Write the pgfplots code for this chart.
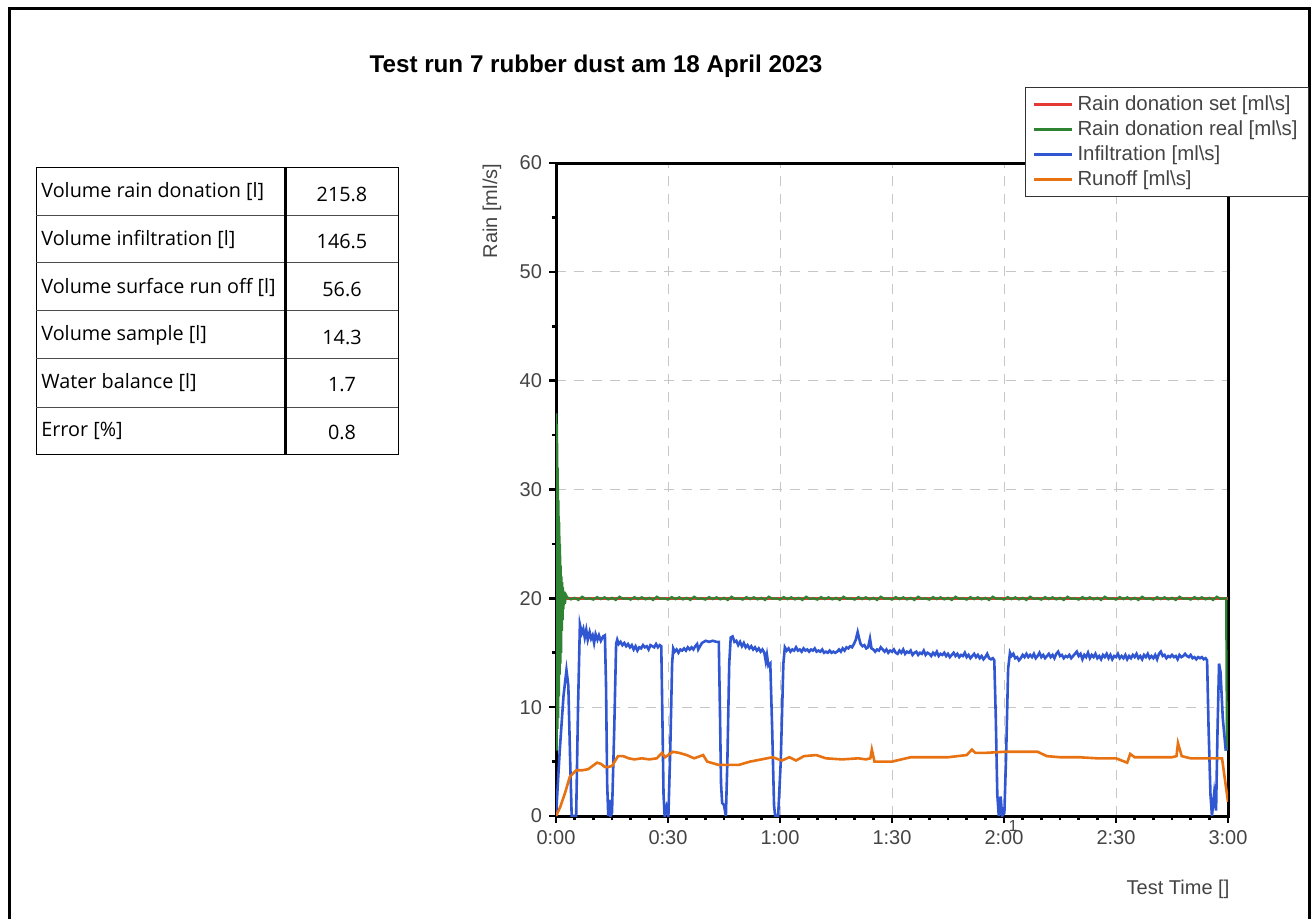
\documentclass[border=0pt]{standalone}
\usepackage{pgfplots}
\pgfplotsset{compat=1.18}
\usepackage{fontspec}
\setmainfont{Liberation Sans}
\newfontfamily\tablefont{Open Sans}
\definecolor{cred}{RGB}{229,57,53}
\definecolor{cgreen}{RGB}{46,132,50}
\definecolor{cblue}{RGB}{48,86,210}
\definecolor{corange}{RGB}{232,114,18}
\definecolor{tickgray}{RGB}{68,68,68}
\begin{document}
\begin{tikzpicture}
\path[use as bounding box] (0pt,0pt) rectangle (658pt,-459.5pt);
\begin{scope}[x=0.5pt,y=-0.5pt]
% outer frame
\draw[line width=1.5pt] (9,919) -- (9,9) -- (1309,9) -- (1309,919);
% title
\node[font=\bfseries\fontsize{12.1}{14}\selectfont] at (596,66) {Test run 7 rubber dust am 18 April 2023};
% table
\draw[line width=0.5pt, black] (36,168) rectangle (398,454);
\foreach \yy in {216,263,311,359,407} {\draw[line width=0.5pt, black!70] (36,\yy) -- (398,\yy);}
\draw[line width=1.5pt] (285,168) -- (285,454);
\begin{scope}[every node/.style={font=\tablefont\fontsize{9.9}{11}\selectfont, inner sep=0pt}]
\node[anchor=west] at (41,192) {Volume rain donation [l]};
\node[anchor=west] at (41,239.5) {Volume infiltration [l]};
\node[anchor=west] at (41,287) {Volume surface run off [l]};
\node[anchor=west] at (41,335) {Volume sample [l]};
\node[anchor=west] at (41,383) {Water balance [l]};
\node[anchor=west] at (41,430.5) {Error [\%]};
\node at (342,194) {215.8};
\node at (342,241.5) {146.5};
\node at (342,289) {56.6};
\node at (342,337) {14.3};
\node at (342,385) {1.7};
\node at (342,432.5) {0.8};
\end{scope}
% axis labels
\node[rotate=90, text=tickgray, font=\fontsize{10}{12}\selectfont] at (492,211) {Rain [ml/s]};
\node[text=tickgray, font=\fontsize{10}{12}\selectfont] at (1178,889) {Test Time []};
\node[text=tickgray, font=\fontsize{8}{10}\selectfont, inner sep=0pt] at (1013,826) {1};
\end{scope}
\begin{axis}[
  at={(278pt,-408pt)}, anchor=south west,
  scale only axis, width=336pt, height=326.5pt,
  xmin=0, xmax=180, ymin=0, ymax=60,
  xtick={0,30,...,180},
  xticklabels={0:00,0:30,1:00,1:30,2:00,2:30,3:00},
  minor x tick num=5,
  ytick={0,10,...,60},
  minor y tick num=1,
  tick align=outside, tick pos=left,
  major tick length=3.5pt, minor tick length=2.2pt,
  every tick/.style={black, line width=1.3pt},
  axis line style={line width=1.5pt},
  grid=major,
  major grid style={gray!45, line width=0.5pt, dash pattern=on 5pt off 4pt},
  /pgf/number format/assume math mode=true,
  ticklabel style={font=\fontsize{10}{12}\selectfont, text=tickgray},
  legend cell align=left,
  legend style={at={(1.1205,1.1164)}, anchor=north east, draw=black!80, line width=0.5pt,
    font=\fontsize{10.2}{12}\selectfont, text=tickgray, row sep=-0.4pt, inner xsep=3.5pt, inner ysep=2pt,
    nodes={inner xsep=2pt}},
  legend image code/.code={\draw[#1,line width=1.5pt] (0pt,0pt) -- (19pt,0pt);},
]
\addplot[cred, line width=1.2pt] coordinates {(0,20) (180,20)};
\addlegendentry{Rain donation set [ml\textbackslash s]}
\addplot[cgreen, line width=1.1pt] coordinates {
(0,6)(0.1,37)(0.2,6)(0.3,36)(0.4,8)(0.5,32)(0.6,9)(0.7,29)(0.8,11)(0.9,27)(1.0,13)(1.1,25)(1.2,14)(1.3,23)(1.4,15)(1.5,22)(1.6,17)(1.7,21.5)(1.8,18)(1.9,21)(2.0,19)(2.2,20.6)(2.4,19.5)(2.7,20.3)
(3,20.1)(4,19.9)(5,20.05)(6,19.85)(7,20.15)(8,19.95)(9,20.0)(10,19.88)(11,20.12)(12,19.92)
(13,20.1)(14,19.9)(15,20.05)(16,19.85)(17,20.15)(18,19.95)(19,20.0)(20,19.88)(21,20.12)(22,19.92)
(23,20.1)(24,19.9)(25,20.05)(26,19.85)(27,20.15)(28,19.95)(29,20.0)(30,19.88)(31,20.12)(32,19.92)
(33,20.1)(34,19.9)(35,20.05)(36,19.85)(37,20.15)(38,19.95)(39,20.0)(40,19.88)(41,20.12)(42,19.92)
(43,20.1)(44,19.9)(45,20.05)(46,19.85)(47,20.15)(48,19.95)(49,20.0)(50,19.88)(51,20.12)(52,19.92)
(53,20.1)(54,19.9)(55,20.05)(56,19.85)(57,20.15)(58,19.95)(59,20.0)(60,19.88)(61,20.12)(62,19.92)
(63,20.1)(64,19.9)(65,20.05)(66,19.85)(67,20.15)(68,19.95)(69,20.0)(70,19.88)(71,20.12)(72,19.92)
(73,20.1)(74,19.9)(75,20.05)(76,19.85)(77,20.15)(78,19.95)(79,20.0)(80,19.88)(81,20.12)(82,19.92)
(83,20.1)(84,19.9)(85,20.05)(86,19.85)(87,20.15)(88,19.95)(89,20.0)(90,19.88)(91,20.12)(92,19.92)
(93,20.1)(94,19.9)(95,20.05)(96,19.85)(97,20.15)(98,19.95)(99,20.0)(100,19.88)(101,20.12)(102,19.92)
(103,20.1)(104,19.9)(105,20.05)(106,19.85)(107,20.15)(108,19.95)(109,20.0)(110,19.88)(111,20.12)(112,19.92)
(113,20.1)(114,19.9)(115,20.05)(116,19.85)(117,20.15)(118,19.95)(119,20.0)(120,19.88)(121,20.12)(122,19.92)
(123,20.1)(124,19.9)(125,20.05)(126,19.85)(127,20.15)(128,19.95)(129,20.0)(130,19.88)(131,20.12)(132,19.92)
(133,20.1)(134,19.9)(135,20.05)(136,19.85)(137,20.15)(138,19.95)(139,20.0)(140,19.88)(141,20.12)(142,19.92)
(143,20.1)(144,19.9)(145,20.05)(146,19.85)(147,20.15)(148,19.95)(149,20.0)(150,19.88)(151,20.12)(152,19.92)
(153,20.1)(154,19.9)(155,20.05)(156,19.85)(157,20.15)(158,19.95)(159,20.0)(160,19.88)(161,20.12)(162,19.92)
(163,20.1)(164,19.9)(165,20.05)(166,19.85)(167,20.15)(168,19.95)(169,20.0)(170,19.88)(171,20.12)(172,19.92)
(173,20.1)(174,19.9)(175,20.05)(176,19.85)(177,20.15)(178,19.95)(179,20.0)(179.5,20.0)(179.7,6)
};
\addlegendentry{Rain donation real [ml\textbackslash s]}
\addplot[cblue, line width=1.3pt] coordinates {
(0,0)(1,6)(2,11)(2.8,13.4)(3.3,12)(3.8,5)(4.2,0)(5.4,0)(5.9,10)(6.4,17.6)(6.9,16.8)(7.3,17.2)(7.7,16.4)(8.1,17.1)(8.5,16.2)(9,16.9)(9.4,16.3)(9.8,16.6)(10.2,15.9)(10.6,16.7)(11.1,16.2)(11.5,16.6)(12,16.1)(12.6,16.5)(13.1,16.6)(13.4,12)(13.7,3)(14,0)(14.3,1.5)(14.6,0)(15,0.3)(15.6,8)(16.1,15.8)(16.4,16.2)(16.8,15.8)(17.3,16.0)(17.8,15.7)(18.3,15.9)(18.8,15.6)(19.3,15.8)(19.8,15.5)(20.3,15.7)(20.8,15.3)(21.3,15.6)(21.8,15.2)(22.3,15.5)(22.8,15.4)(23.3,15.7)(23.8,15.5)(24.3,15.6)(24.8,15.3)(25.3,15.7)(25.8,15.6)(26.3,15.5)(26.8,15.8)(27.3,15.5)(27.8,15.7)(28.2,15.6)(28.5,9)(28.8,2)(29.1,0)(29.6,0.8)(30.1,0)(30.6,6)(31.1,14)(31.4,15.4)(31.8,15.1)(32.3,15.3)(32.8,15.0)(33.3,15.3)(33.8,15.2)(34.3,15.4)(34.8,15.2)(35.3,15.5)(35.8,15.3)(36.3,15.5)(36.8,15.3)(37.3,15.6)(37.8,15.8)(38.1,15.3)(38.6,15.6)(39.1,15.9)(39.6,16.0)(40.1,16.1)(41,16.0)(42,16.1)(43,16.0)(43.6,16.0)(43.9,10)(44.2,3)(44.5,1.2)(45,1.0)(45.5,0)(45.9,5)(46.4,14)(46.8,16.4)(47.3,16.5)(47.8,16.0)(48.3,16.1)(48.8,15.7)(49.3,16.0)(49.8,15.6)(50.3,15.9)(50.8,15.5)(51.3,15.7)(51.8,15.4)(52.3,15.6)(52.8,15.3)(53.3,15.5)(53.8,15.2)(54.3,15.4)(54.8,15.1)(55.3,15.3)(55.8,15.0)(56.2,14.2)(56.5,14.8)(56.9,13.8)(57.4,14.0)(57.9,8)(58.4,1)(58.7,0)(59.5,0)(60.2,5)(60.9,14)
(61.3,15.5)(61.8,15.2)(62.3,15.4)(62.8,15.1)(63.3,15.3)(63.8,15.2)(64.3,15.5)(64.8,15.2)(65.3,15.3)(65.8,15.1)(66.3,15.4)(66.8,15.2)(67.3,15.3)(67.8,15.1)(68.3,15.3)(68.8,15.2)(69.3,15.4)(69.8,15.1)(70.3,15.2)(70.8,15.1)(71.3,15.3)(71.8,15.0)(72.3,15.1)(72.8,15.0)(73.3,15.2)(73.8,15.0)(74.3,15.1)(74.8,15.0)(75.3,15.1)(75.8,15.3)(76.3,15.1)(76.8,15.4)(77.3,15.2)(77.8,15.5)(78.3,15.4)(78.8,15.6)(79.3,15.5)(79.8,15.8)(80.3,16.2)(80.8,16.9)(81.2,16.3)(81.6,15.8)(82.1,15.6)(82.6,15.7)(83.1,15.4)(83.6,15.5)(84.1,16.3)(84.5,15.4)(85,15.3)(85.5,15.1)(86,15.3)(86.5,15.2)(87,15.5)(87.5,15.3)(88,15.1)(88.5,15.3)(89,15.0)(89.5,15.2)(90,15.1)(90.5,15.3)(91,15.0)(91.5,14.9)(92,15.2)(92.5,15.0)(93,15.3)(93.5,14.9)(94,15.1)(94.5,15.0)(95,15.2)(95.5,14.8)(96,15.0)(96.5,15.1)(97,14.8)(97.5,15.0)(98,14.9)(98.5,15.2)(99,14.8)(99.5,15.0)(100,14.9)(100.5,14.7)(101,15.0)(101.5,14.8)(102,15.1)(102.5,14.7)(103,14.9)(103.5,14.8)(104,15.0)(104.5,14.7)(105,14.9)(105.5,14.6)(106,14.8)(106.5,15.0)(107,14.7)(107.5,14.9)(108,14.6)(108.5,14.8)(109,14.7)(109.5,15.0)(110,14.6)(110.5,14.8)(111,14.5)(111.5,14.7)(112,14.9)(112.5,14.6)(113,14.8)(113.5,14.5)(114,14.7)(114.5,14.4)(115,14.6)(115.5,14.9)(116,14.5)(116.5,14.4)(117,14.5)(117.4,14.3)
(117.8,9)(118.2,2)(118.6,0)(119.1,1.8)(119.5,0)(120.1,0.3)(120.6,6)(121.1,13.5)(121.6,15.0)(122,14.7)(122.5,14.9)(123,14.5)(123.5,14.6)(124,14.3)(124.5,14.5)(125,14.8)(125.5,14.6)(126,14.9)(126.5,14.6)(127,14.8)(127.5,14.6)(128,14.9)(128.5,14.5)(129,14.7)(129.5,15.0)(130,14.6)
(130.5,14.8)(131,14.5)(131.5,14.7)(132,14.9)(132.5,14.6)(133,14.8)(133.5,14.5)(134,14.9)(134.5,15.1)(135,14.7)(135.5,14.8)(136,14.5)(136.5,14.7)(137,14.6)(137.5,14.8)(138,14.5)(138.5,14.7)(139,14.9)(139.5,15.1)(140,14.7)(140.5,14.9)(141,14.4)(141.5,14.8)(142,14.6)(142.5,15.0)(143,14.5)(143.5,14.8)(144,14.6)(144.5,14.9)(145,14.5)(145.5,14.7)(146,14.4)(146.5,14.8)(147,14.6)(147.5,14.9)(148,14.5)(148.5,14.8)(149,14.4)(149.5,14.7)(150,14.6)(150.5,14.9)(151,14.5)(151.5,14.7)(152,14.5)(152.5,14.8)(153,14.4)(153.5,14.7)(154,14.5)(154.5,14.8)(155,14.6)(155.5,14.9)(156,14.5)(156.5,14.7)(157,14.4)(157.5,14.8)(158,14.6)(158.5,14.9)(159,14.5)(159.5,14.7)(160,14.5)(160.5,14.8)(161,14.4)(161.5,14.9)(162,15.1)(162.5,14.7)(163,14.8)(163.5,14.5)(164,14.7)(164.5,14.6)(165,14.8)(165.5,14.6)(166,14.7)(166.5,14.4)(167,14.8)(167.5,14.6)(168,14.7)(168.5,14.9)(169,14.7)(169.5,14.6)(170,14.8)(170.5,14.5)(171,14.6)(171.5,14.4)(172,14.6)(172.5,14.5)(173,14.6)(173.5,14.4)(174,14.5)(174.4,14.3)
(174.8,8)(175.3,2)(175.7,0)(176.3,2.1)(176.8,0.5)(177.2,8)(177.6,14.0)(178,13.2)(178.6,9)(179.4,6)
};
\addlegendentry{Infiltration [ml\textbackslash s]}
\addplot[corange, line width=1.3pt] coordinates {
(0,0)(1.1,0.8)(2.4,2.1)(3.7,3.6)(5.4,4.2)(7,4.2)(8.6,4.3)(9.8,4.6)(11,4.9)(12,4.8)(13.1,4.5)(14,4.5)(15,4.6)(16.6,5.5)(18,5.5)(19.5,5.3)(21,5.2)(23,5.3)(25,5.2)(27,5.3)(28.4,5.8)(29.2,5.4)(31.3,5.9)(33,5.8)(35,5.6)(37,5.3)(39.4,5.6)(40.5,5.0)(43.5,4.7)(47,4.7)(49,4.7)(52,5.0)(55,5.2)(58,5.4)(60.5,5.1)(62.5,5.4)(64.3,5.1)(66.4,5.5)(69.7,5.6)(72.3,5.3)(76.6,5.2)(81,5.3)(83,5.2)(84.2,5.3)(84.6,6.1)(85.3,5.0)(90,5.0)(95,5.4)(100,5.4)(105,5.4)(110,5.6)(111.4,6.1)(112.3,5.8)(115,5.8)(120,5.9)(125,5.9)(129,5.9)(131.5,5.5)(135,5.4)(140,5.4)(145,5.3)(150,5.3)(153,4.9)(153.8,5.7)(155,5.4)(160,5.4)(165,5.4)(166.2,5.5)(166.6,6.7)(167.6,5.5)(170,5.3)(175,5.3)(178.4,5.3)(180,1.3)
};
\addlegendentry{Runoff [ml\textbackslash s]}
\end{axis}
\end{tikzpicture}
\end{document}
